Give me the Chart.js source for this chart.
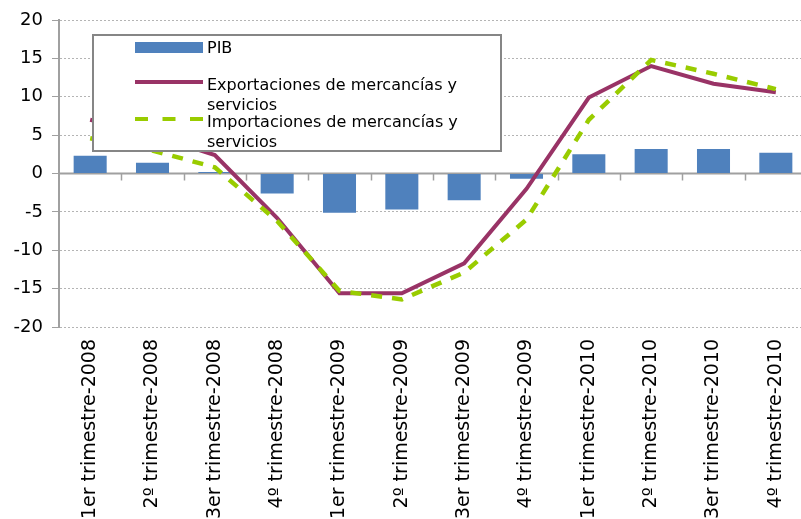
<!DOCTYPE html>
<html lang="es">
<head>
<meta charset="utf-8">
<title>PIB, exportaciones e importaciones</title>
<script src="https://cdn.jsdelivr.net/npm/chart.js@4.4.1/dist/chart.umd.min.js"></script>
<style>
  html, body { margin: 0; padding: 0; background: #fff; overflow: hidden; }
  #contenedor { position: absolute; left: 0; top: 0; width: 807px; height: 519px; }
</style>
</head>
<body>
<div id="contenedor"><canvas id="grafico"></canvas></div>
<script>
// --- Datos ---
const trimestres = [
  '1er trimestre-2008', '2º trimestre-2008', '3er trimestre-2008', '4º trimestre-2008',
  '1er trimestre-2009', '2º trimestre-2009', '3er trimestre-2009', '4º trimestre-2009',
  '1er trimestre-2010', '2º trimestre-2010', '3er trimestre-2010', '4º trimestre-2010'
];
const pib = [2.3, 1.4, 0.2, -2.6, -5.1, -4.7, -3.5, -0.7, 2.5, 3.2, 3.2, 2.7];
const exportaciones = [7.0, 5.0, 2.4, -5.8, -15.6, -15.6, -11.7, -2.0, 9.9, 14.0, 11.7, 10.6];
const importaciones = [4.6, 3.0, 0.8, -6.2, -15.3, -16.4, -12.9, -6.0, 7.0, 14.8, 13.0, 11.0];

const nombrePib = 'PIB';
const nombreExport = 'Exportaciones de mercancías y servicios';
const nombreImport = 'Importaciones de mercancías y servicios';
// texto de la leyenda partido en líneas como en el original
const lineasExport = ['Exportaciones de mercancías y', 'servicios'];
const lineasImport = ['Importaciones de mercancías y', 'servicios'];

const COLOR_PIB = '#4F81BD';
const COLOR_EXPORT = '#993366';
const COLOR_IMPORT = '#99CC00';
const COLOR_EJE = '#A0A0A0';

Chart.defaults.font.family = "'DejaVu Sans', Verdana, sans-serif";
Chart.defaults.color = '#000';

// Línea del cero con marcas entre categorías
const lineaCero = {
  id: 'lineaCero',
  beforeDatasetsDraw(chart) {
    const { ctx, chartArea, scales: { x, y } } = chart;
    const y0 = y.getPixelForValue(0);
    ctx.save();
    ctx.strokeStyle = COLOR_EJE;
    ctx.lineWidth = 2;
    ctx.beginPath();
    ctx.moveTo(chartArea.left, y0);
    ctx.lineTo(chartArea.right, y0);
    ctx.stroke();
    ctx.lineWidth = 1.5;
    for (let i = 1; i < trimestres.length; i++) {
      const xb = Math.round((x.getPixelForValue(i - 1) + x.getPixelForValue(i)) / 2) + 0.5;
      ctx.beginPath();
      ctx.moveTo(xb, y0);
      ctx.lineTo(xb, y0 + 7);
      ctx.stroke();
    }
    ctx.restore();
  }
};

// Leyenda en caja dentro del área del gráfico
const cajaLeyenda = {
  id: 'cajaLeyenda',
  afterDraw(chart) {
    const ctx = chart.ctx;
    ctx.save();
    ctx.fillStyle = '#fff';
    ctx.fillRect(93, 35, 408, 116);
    ctx.strokeStyle = '#868686';
    ctx.lineWidth = 2;
    ctx.strokeRect(93, 35, 408, 116);

    // PIB
    ctx.fillStyle = COLOR_PIB;
    ctx.fillRect(135, 42, 68, 11);
    // Exportaciones
    ctx.strokeStyle = COLOR_EXPORT;
    ctx.lineWidth = 4;
    ctx.beginPath();
    ctx.moveTo(135, 82);
    ctx.lineTo(203, 82);
    ctx.stroke();
    // Importaciones
    ctx.strokeStyle = COLOR_IMPORT;
    ctx.setLineDash([13, 14.5]);
    ctx.beginPath();
    ctx.moveTo(135, 119);
    ctx.lineTo(203, 119);
    ctx.stroke();
    ctx.setLineDash([]);

    ctx.fillStyle = '#000';
    ctx.font = "16px 'DejaVu Sans', Verdana, sans-serif";
    ctx.textBaseline = 'alphabetic';
    ctx.fillText(nombrePib, 207, 53);
    lineasExport.forEach((t, i) => ctx.fillText(t, 207, 90 + i * 19.5));
    lineasImport.forEach((t, i) => ctx.fillText(t, 207, 127 + i * 19.5));
    ctx.restore();
  }
};

new Chart(document.getElementById('grafico'), {
  type: 'bar',
  data: {
    labels: trimestres,
    datasets: [
      {
        type: 'line', label: nombreImport, data: importaciones, order: 0,
        borderColor: COLOR_IMPORT, borderWidth: 4.5, borderDash: [11, 10],
        pointRadius: 0, tension: 0, fill: false
      },
      {
        type: 'line', label: nombreExport, data: exportaciones, order: 1,
        borderColor: COLOR_EXPORT, borderWidth: 4, pointRadius: 0, tension: 0, fill: false
      },
      {
        type: 'bar', label: nombrePib, data: pib, order: 2,
        backgroundColor: COLOR_PIB, barPercentage: 0.53, categoryPercentage: 1
      }
    ]
  },
  options: {
    responsive: true,
    maintainAspectRatio: false,
    animation: false,
    devicePixelRatio: 1,
    layout: { padding: { top: 20, left: 0, right: 0, bottom: 0 } },
    plugins: { legend: { display: false }, tooltip: { enabled: false } },
    scales: {
      x: {
        grid: { display: false },
        border: { display: false },
        ticks: {
          autoSkip: false, maxRotation: 90, minRotation: 90, padding: 4,
          font: { size: 19 }, color: '#000'
        },
        afterFit(scale) {
          scale.height = 192;
          scale.paddingLeft = 0;
          scale.paddingRight = 0;
        }
      },
      y: {
        min: -20, max: 20,
        grid: { color: '#B4B4B4', lineWidth: 1, tickLength: 7, tickColor: '#A0A0A0' },
        border: { display: true, color: COLOR_EJE, width: 2, dash: [2, 2] },
        ticks: { stepSize: 5, padding: 9, font: { size: 18 }, color: '#000' },
        afterFit(scale) { scale.width = 59; }
      }
    }
  },
  plugins: [lineaCero, cajaLeyenda]
});
</script>
</body>
</html>
